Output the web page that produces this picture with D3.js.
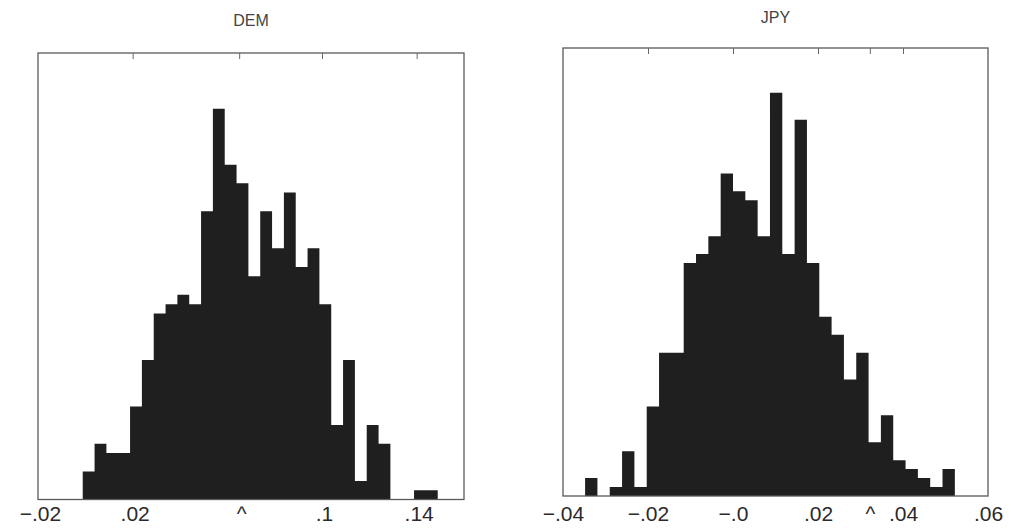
<!DOCTYPE html>
<html>
<head>
<meta charset="utf-8">
<script src="https://cdn.jsdelivr.net/npm/d3@7/dist/d3.min.js"></script>
<style>
  body { margin: 0; background: #fff; }
  svg { display: block; }
</style>
</head>
<body>
<div id="chart"></div>
<script>
// DEM histogram: bin start, bin width, counts per bin
var demBinStart = -0.0011;
var demBinWidth = 0.005;
var demCounts = [3, 6, 5, 5, 10, 15, 20, 21, 22, 21, 31, 42, 36, 34, 24, 31, 27, 33, 25, 27, 21, 8, 15, 2, 8, 6, 0, 0, 1, 1];
var demTicks = [-0.02, 0.02, 0.065, 0.1, 0.14];
var demTickLabels = ["\u2212.02", ".02", "^", ".1", ".14"];

// JPY histogram
var jpyBinStart = -0.0348;
var jpyBinWidth = 0.0029;
var jpyCounts = [2, 0, 1, 5, 1, 10, 16, 16, 26, 27, 29, 36, 34, 33, 29, 45, 27, 42, 26, 20, 18, 13, 16, 6, 9, 4, 3, 2, 1, 3];
var jpyTicks = [-0.04, -0.02, 0, 0.02, 0.0322, 0.04, 0.06];
var jpyTickLabels = ["\u2212.04", "\u2212.02", "\u2212.0", ".02", "^", ".04", ".06"];

var width = 1011, height = 532;

var svg = d3.select("#chart").append("svg")
    .attr("width", width)
    .attr("height", height);

function drawPanel(opts) {
    var x = d3.scaleLinear().domain(opts.xDomain).range([opts.left, opts.right]);
    var y = d3.scaleLinear().domain([0, opts.yMax]).range([opts.bottom, opts.top]);

    // step outline: one point per bin edge, last count repeated at the closing edge
    var steps = opts.counts.map(function(c, i) {
        return { x: opts.binStart + i * opts.binWidth, count: c };
    });
    steps.push({ x: opts.binStart + opts.counts.length * opts.binWidth, count: opts.counts[opts.counts.length - 1] });

    var area = d3.area()
        .curve(d3.curveStepAfter)
        .x(function(d) { return x(d.x); })
        .y0(y(0))
        .y1(function(d) { return y(d.count); });

    var g = svg.append("g");

    g.append("path")
        .datum(steps)
        .attr("d", area)
        .attr("fill", "#1f1f1f");

    // frame
    g.append("rect")
        .attr("x", opts.left)
        .attr("y", opts.top)
        .attr("width", opts.right - opts.left)
        .attr("height", opts.bottom - opts.top)
        .attr("fill", "none")
        .attr("stroke", "#5a5a5a")
        .attr("stroke-width", 1.3);

    // inward ticks along the top edge
    var topAxis = d3.axisTop(x)
        .tickValues(opts.ticks.filter(function(t) { return t > opts.xDomain[0] && t < opts.xDomain[1]; }))
        .tickSize(-6)
        .tickFormat("");
    g.append("g")
        .attr("transform", "translate(0," + opts.top + ")")
        .call(topAxis)
        .call(function(a) { a.select(".domain").remove(); })
        .selectAll("line").attr("stroke", "#666");

    // labels under the bottom edge
    var bottomAxis = d3.axisBottom(x)
        .tickValues(opts.ticks)
        .tickSize(0)
        .tickPadding(0)
        .tickFormat(function(d, i) { return opts.labels[i]; });
    var ax = g.append("g")
        .attr("transform", "translate(0," + opts.bottom + ")")
        .call(bottomAxis);
    ax.select(".domain").remove();
    ax.selectAll("text")
        .attr("dy", null)
        .attr("y", opts.labelY - opts.bottom)
        .attr("dx", opts.labelDx)
        .style("font-family", "'Liberation Sans', Arial, sans-serif")
        .style("font-size", "21px")
        .attr("fill", "#2a2a2a");

    // title
    g.append("text")
        .attr("x", (opts.left + opts.right) / 2)
        .attr("y", opts.titleY)
        .attr("text-anchor", "middle")
        .style("font-family", "'Liberation Sans', Arial, sans-serif")
        .style("font-size", "16px")
        .attr("fill", "#444")
        .text(opts.title);
}

drawPanel({
    title: "DEM", titleY: 26,
    left: 38, right: 464, top: 53, bottom: 499.5,
    xDomain: [-0.02, 0.16], yMax: 48,
    binStart: demBinStart, binWidth: demBinWidth, counts: demCounts,
    ticks: demTicks, labels: demTickLabels,
    labelY: 521, labelDx: 2
});

drawPanel({
    title: "JPY", titleY: 23,
    left: 563, right: 988, top: 48, bottom: 496,
    xDomain: [-0.04, 0.06], yMax: 50,
    binStart: jpyBinStart, binWidth: jpyBinWidth, counts: jpyCounts,
    ticks: jpyTicks, labels: jpyTickLabels,
    labelY: 521, labelDx: 0
});
</script>
</body>
</html>
